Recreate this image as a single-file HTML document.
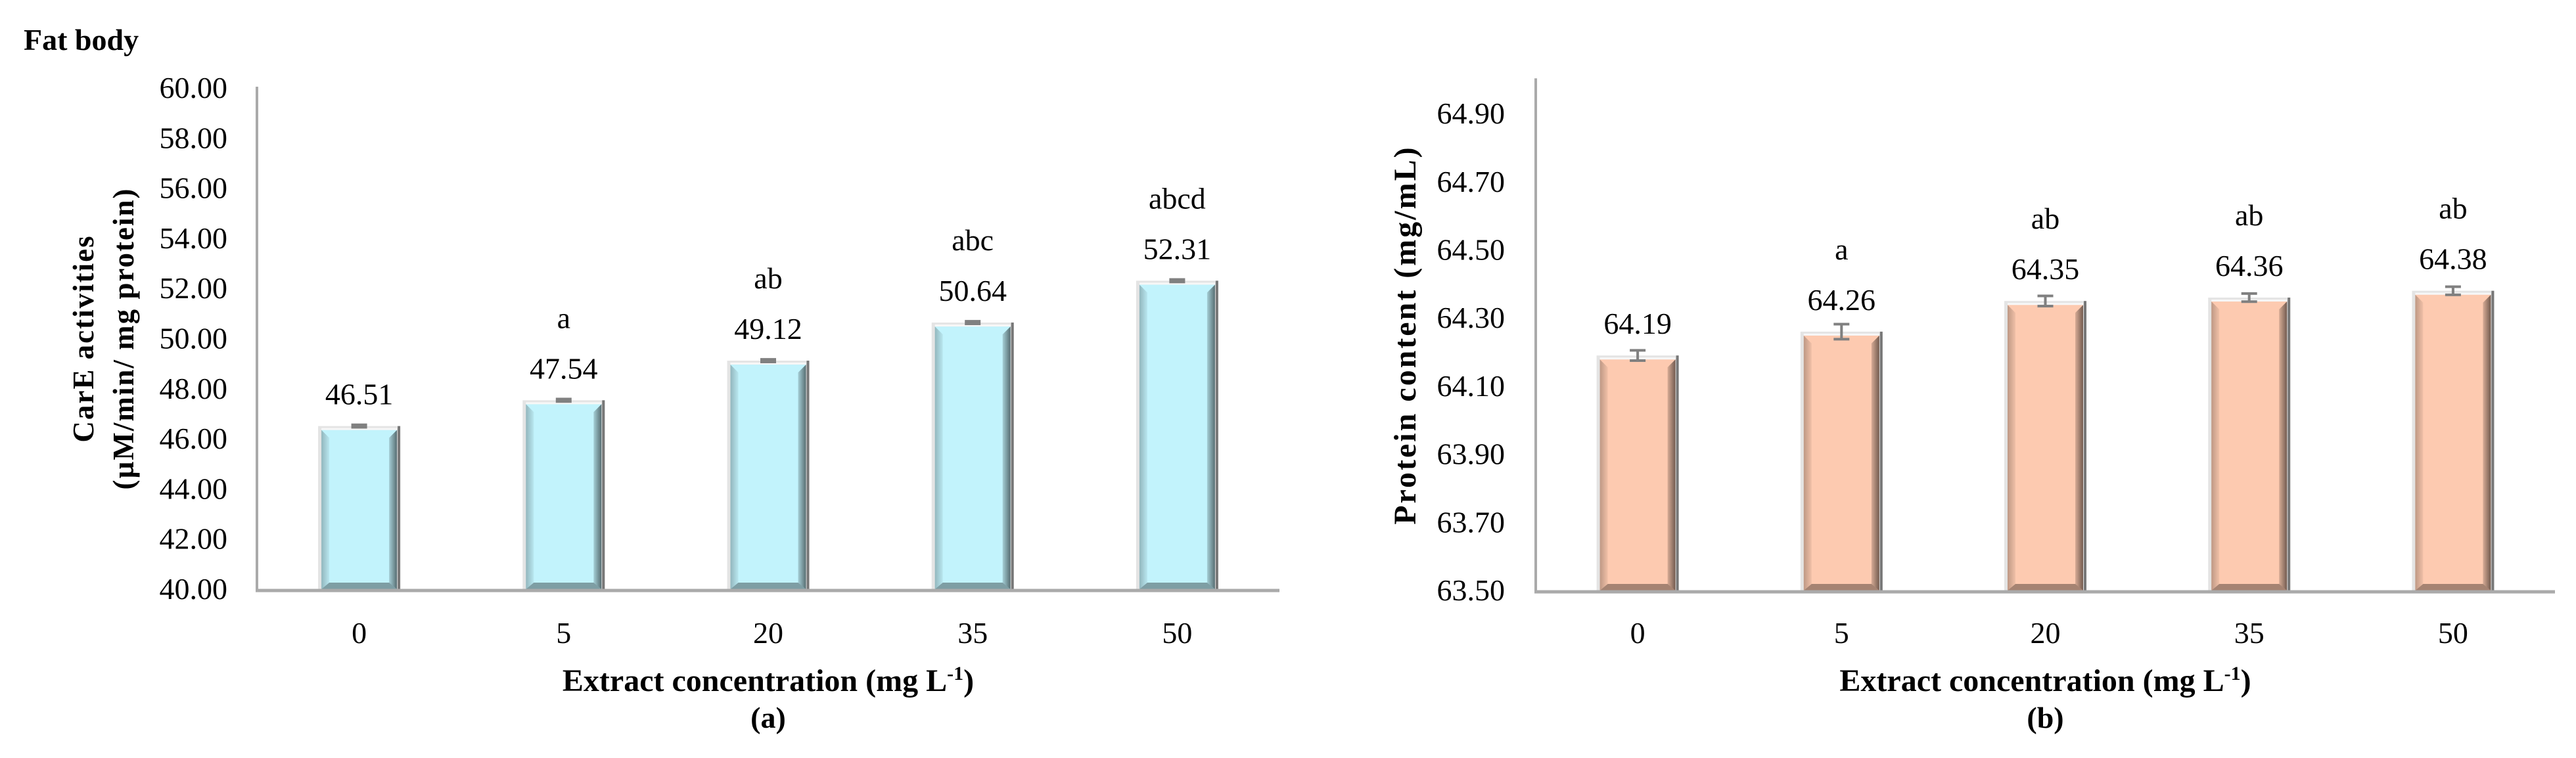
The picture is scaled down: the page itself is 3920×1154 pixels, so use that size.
<!DOCTYPE html>
<html><head><meta charset="utf-8">
<style>
html,body{margin:0;padding:0;background:#fff;}
svg{display:block;font-family:"Liberation Serif",serif;}
</style></head>
<body>
<svg id="chart" width="3920" height="1154" viewBox="0 0 3920 1154" xmlns="http://www.w3.org/2000/svg">
<defs>
<linearGradient id="lgL" x1="0" x2="1"><stop offset="0" stop-color="#000" stop-opacity="0.25"/><stop offset="1" stop-color="#000" stop-opacity="0.05"/></linearGradient>
<linearGradient id="lgR" x1="0" x2="1"><stop offset="0" stop-color="#000" stop-opacity="0.15"/><stop offset="1" stop-color="#000" stop-opacity="0.55"/></linearGradient>
</defs>
<text x="36" y="76" font-size="46" font-weight="bold">Fat body</text>
<g id="gA"></g>
<g id="gB"></g>
</svg>
<script>
const categories = ["0","5","20","35","50"];
const valuesA = [46.51, 47.54, 49.12, 50.64, 52.31];
const errorsA = [0.05, 0.05, 0.05, 0.05, 0.05];
const lettersA = ["", "a", "ab", "abc", "abcd"];
const ticksA = [40,42,44,46,48,50,52,54,56,58,60];
const valuesB = [64.19, 64.26, 64.35, 64.36, 64.38];
const errorsB = [0.015, 0.022, 0.015, 0.012, 0.012];
const lettersB = ["", "a", "ab", "ab", "ab"];
const ticksB = [63.5,63.7,63.9,64.1,64.3,64.5,64.7,64.9];

const NS = "http://www.w3.org/2000/svg";
function mk(tag, attrs, parent){const e=document.createElementNS(NS,tag);for(const k in attrs)e.setAttribute(k,attrs[k]);parent.appendChild(e);return e;}

function drawChart(g, cfg){
  const {x0,x1,yBase,yTop,vmin,vmax,values,errors,letters,ticks,fill,titleLines,titleX,titleSize,titleSpacing,sub,labelRight} = cfg;
  const yS = v => yBase - (v - vmin) / (vmax - vmin) * (yBase - yTop);
  const bw = (x1 - x0) / categories.length;
  const xC = i => x0 + bw * (i + 0.5);
  ticks.forEach(t => {
    const tx = mk("text",{x:labelRight,y:yS(t)+15,"font-size":46,"text-anchor":"end"},g);
    
    
    tx.textContent = t.toFixed(2);
  });
  values.forEach((v,i) => {
    const w = 125, x = xC(i) - w/2, y = yS(v), h = yBase - y;
    const bg = mk("g",{},g);
    
    
    mk("rect",{x:x,y:y,width:w,height:h,fill:"#e4e4e4"},bg);
    mk("rect",{x:x+w-4,y:y,width:4,height:h,fill:"#777"},bg);
    mk("rect",{x:x+5,y:y+6,width:w-10,height:h-6,fill:fill},bg);
    mk("polygon",{points:`${x+5},${y+6} ${x+17},${y+18} ${x+17},${yBase-10} ${x+5},${yBase}`,fill:"url(#lgL)"},bg);
    mk("polygon",{points:`${x+w-5},${y+6} ${x+w-17},${y+18} ${x+w-17},${yBase-10} ${x+w-5},${yBase}`,fill:"url(#lgR)"},bg);
    mk("polygon",{points:`${x+5},${yBase} ${x+17},${yBase-10} ${x+w-17},${yBase-10} ${x+w-5},${yBase}`,fill:"#000","fill-opacity":0.35},bg);
    mk("rect",{x:x+5,y:y+3,width:w-10,height:3,fill:"#fff","fill-opacity":0.7},bg);
    const eb = mk("g",{stroke:"#808080","stroke-width":4},g);
    
    
    const e1 = yS(v + errors[i]), e2 = yS(v - errors[i]);
    mk("line",{x1:xC(i),x2:xC(i),y1:e1,y2:e2},eb);
    mk("line",{x1:xC(i)-12,x2:xC(i)+12,y1:e1,y2:e1},eb);
    mk("line",{x1:xC(i)-12,x2:xC(i)+12,y1:e2,y2:e2},eb);
    const vl = mk("text",{x:xC(i),y:y-33,"font-size":46,"text-anchor":"middle"},g);
    
    
    vl.textContent = v.toFixed(2);
    if (letters[i]) {
      const ll = mk("text",{x:xC(i),y:y-110,"font-size":46,"text-anchor":"middle"},g);
      
      
      ll.textContent = letters[i];
    }
    const xl = mk("text",{x:xC(i),y:979,"font-size":46,"text-anchor":"middle"},g);
    
    
    xl.textContent = categories[i];
  });
  const ya = mk("line",{x1:x0,x2:x0,y1:yTop-2,y2:yBase+3,stroke:"#aaa","stroke-width":4},g);
  
  
  const xa = mk("line",{x1:x0-2,x2:x1,y1:yBase+2,y2:yBase+2,stroke:"#aaa","stroke-width":5},g);
  
  
  const cx = (x0 + x1) / 2;
  const xt = mk("text",{x:cx,y:1052,"font-size":48,"font-weight":"bold","text-anchor":"middle"},g);
  
  
  xt.innerHTML = 'Extract concentration (mg L<tspan font-size="30" dy="-17">-1</tspan><tspan dy="17">)</tspan>';
  const st = mk("text",{x:cx,y:1108,"font-size":46,"font-weight":"bold","text-anchor":"middle"},g);
  
  
  st.textContent = sub;
  const cy = (yTop + yBase) / 2;
  titleLines.forEach((ln, k) => {
    const t = mk("text",{x:0,y:0,"font-size":titleSize,"font-weight":"bold","letter-spacing":titleSpacing,"text-anchor":"middle",transform:`translate(${titleX[k]},${cy}) rotate(-90)`},g);
    
    
    t.textContent = ln;
  });
}

drawChart(document.getElementById("gA"), {x0:391,x1:1947,yBase:897,yTop:134,vmin:40,vmax:60,values:valuesA,errors:errorsA,letters:lettersA,ticks:ticksA,fill:"#c2f3fc",titleLines:["CarE activities","(µM/min/ mg protein)"],titleX:[142,203],titleSize:45,titleSpacing:2,sub:"(a)",labelRight:346});
drawChart(document.getElementById("gB"), {x0:2337,x1:3888,yBase:899,yTop:121.2,vmin:63.5,vmax:65.0,values:valuesB,errors:errorsB,letters:lettersB,ticks:ticksB,fill:"#fdcab0",titleLines:["Protein content (mg/mL)"],titleX:[2154],titleSize:48,titleSpacing:3,sub:"(b)",labelRight:2290});
</script>
</body></html>
